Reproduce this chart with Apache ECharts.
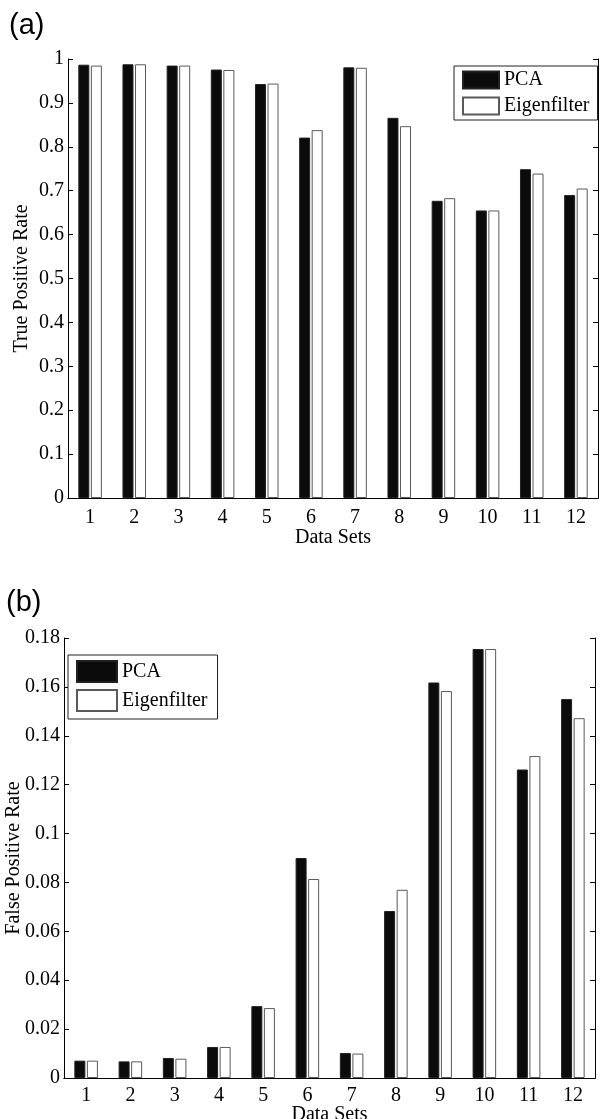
<!DOCTYPE html>
<html>
<head>
<meta charset="utf-8">
<script src="https://cdn.jsdelivr.net/npm/echarts@6/dist/echarts.min.js"></script>
<style>
html,body{margin:0;padding:0;background:#fff;}
#chart{width:600px;height:1119px;}
</style>
</head>
<body>
<div id="chart"></div>
<script>
const categories = ['1','2','3','4','5','6','7','8','9','10','11','12'];
const seriesNames = ['PCA', 'Eigenfilter'];
const tprPCA = [0.987, 0.988, 0.985, 0.976, 0.943, 0.821, 0.981, 0.866, 0.677, 0.655, 0.749, 0.690];
const tprEig = [0.985, 0.988, 0.985, 0.975, 0.944, 0.838, 0.980, 0.847, 0.683, 0.655, 0.739, 0.705];
const fprPCA = [0.0071, 0.0068, 0.0082, 0.0127, 0.0294, 0.0900, 0.0102, 0.0683, 0.1618, 0.1755, 0.1262, 0.1550];
const fprEig = [0.0071, 0.0068, 0.0079, 0.0127, 0.0286, 0.0814, 0.0100, 0.0770, 0.1583, 0.1755, 0.1317, 0.1472];
const tprRange = [0, 1, 0.1];
const fprRange = [0, 0.18, 0.02];
const panelLabels = ['(a)', '(b)'];
const axisTitles = ['True Positive Rate', 'False Positive Rate', 'Data Sets'];

const SERIF = 'Liberation Serif';
const FS = 20;

const chart = echarts.init(document.getElementById('chart'), null, {renderer: 'canvas'});

function xAxes(gi, margin, nameGap) {
  return [
    {
      type: 'category', gridIndex: gi, data: categories, position: 'bottom',
      axisLine: {lineStyle: {color: '#000', width: 1}},
      axisTick: {inside: true, alignWithLabel: true, length: 5, interval: 0, lineStyle: {color: '#000'}},
      axisLabel: {color: '#000', fontFamily: SERIF, fontSize: FS, margin: margin, interval: 0},
      name: axisTitles[2], nameLocation: 'middle', nameGap: nameGap, nameMoveOverlap: false,
      nameTextStyle: {color: '#000', fontFamily: SERIF, fontSize: FS},
      splitLine: {show: false}
    },
    {
      type: 'category', gridIndex: gi, data: categories, position: 'top',
      axisLine: {lineStyle: {color: '#000', width: 1}},
      axisTick: {inside: true, alignWithLabel: true, length: 5, interval: 0, lineStyle: {color: '#000'}},
      axisLabel: {show: false},
      splitLine: {show: false}
    }
  ];
}
function yAxes(gi, range, title, gap) {
  return [
    {
      type: 'value', gridIndex: gi, position: 'left', min: range[0], max: range[1], interval: range[2],
      axisLine: {show: true, lineStyle: {color: '#000', width: 1}},
      axisTick: {show: true, inside: true, length: 5, lineStyle: {color: '#000'}},
      axisLabel: {color: '#000', fontFamily: SERIF, fontSize: FS, margin: 4},
      splitLine: {show: false},
      name: title, nameLocation: 'middle', nameGap: gap, nameRotate: 90, nameMoveOverlap: false,
      nameTextStyle: {color: '#000', fontFamily: SERIF, fontSize: FS}
    },
    {
      type: 'value', gridIndex: gi, position: 'right', min: range[0], max: range[1], interval: range[2],
      axisLine: {show: true, lineStyle: {color: '#000', width: 1}},
      axisTick: {show: true, inside: true, length: 5, lineStyle: {color: '#000'}},
      axisLabel: {show: false},
      splitLine: {show: false}
    }
  ];
}
function bars(gi, pca, eig) {
  const xi = gi * 2, yi = gi * 2;
  return [
    {
      name: seriesNames[0], type: 'bar', xAxisIndex: xi, yAxisIndex: yi, data: pca,
      barWidth: 11, barGap: '14%',
      itemStyle: {color: '#0b0b0b', borderColor: '#222', borderWidth: 1},
      emphasis: {disabled: true}
    },
    {
      name: seriesNames[1], type: 'bar', xAxisIndex: xi, yAxisIndex: yi, data: eig,
      barWidth: 11, barGap: '14%',
      itemStyle: {color: '#ffffff', borderColor: '#5a5a5a', borderWidth: 1},
      emphasis: {disabled: true}
    }
  ];
}

const option = {
  animation: false,
  backgroundColor: '#fff',
  title: [
    {text: panelLabels[0], left: 4, top: 6, textStyle: {fontFamily: 'Liberation Sans', fontSize: 29, fontWeight: 'normal', color: '#000'}},
    {text: panelLabels[1], left: 1, top: 583, textStyle: {fontFamily: 'Liberation Sans', fontSize: 29, fontWeight: 'normal', color: '#000'}}
  ],
  grid: [
    {left: 68, top: 59, width: 530, height: 439, containLabel: false, outerBoundsMode: 'none'},
    {left: 64, top: 638, width: 531, height: 440, containLabel: false, outerBoundsMode: 'none'}
  ],
  legend: [
    {
      data: seriesNames, orient: 'vertical', left: 454, top: 66,
      padding: [4, 8, 4, 8], itemWidth: 36, itemHeight: 17, itemGap: 6,
      borderColor: '#222', borderWidth: 1, backgroundColor: '#fff',
      icon: 'rect', selectedMode: false,
      textStyle: {fontFamily: SERIF, fontSize: FS, color: '#000', lineHeight: 17}
    },
    {
      data: seriesNames, orient: 'vertical', left: 68, top: 655,
      padding: [5, 10, 7, 8], itemWidth: 40, itemHeight: 21, itemGap: 6,
      borderColor: '#222', borderWidth: 1, backgroundColor: '#fff',
      icon: 'rect', selectedMode: false,
      textStyle: {fontFamily: SERIF, fontSize: FS, color: '#000', lineHeight: 21}
    }
  ],
  xAxis: [].concat(xAxes(0, 10, 30), xAxes(1, 8, 27)),
  yAxis: [].concat(yAxes(0, tprRange, axisTitles[0], 36), yAxes(1, fprRange, axisTitles[1], 40)),
  series: [].concat(bars(0, tprPCA, tprEig), bars(1, fprPCA, fprEig))
};
chart.setOption(option);
</script>
</body>
</html>
